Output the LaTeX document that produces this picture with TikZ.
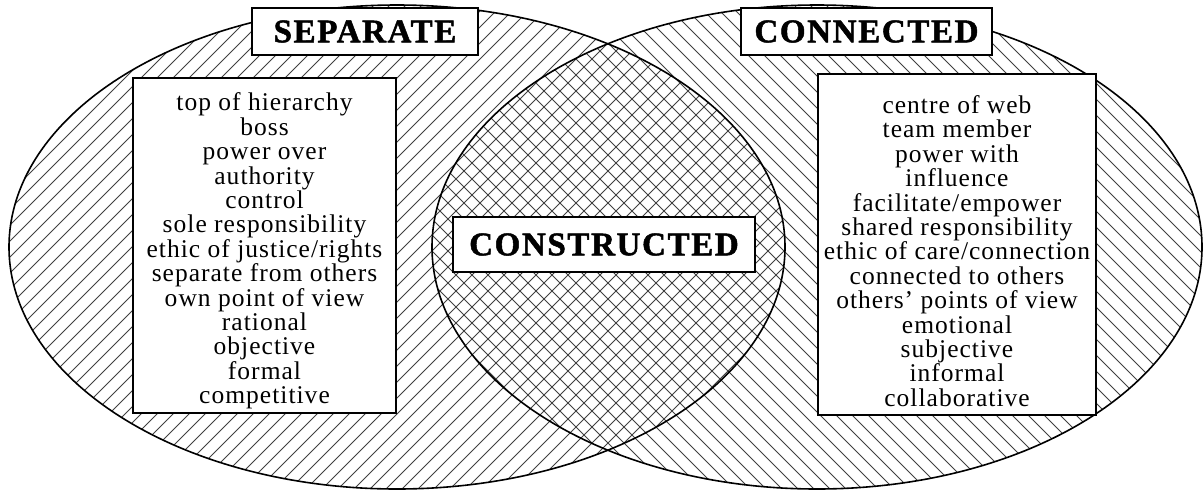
\documentclass[tikz,border=0pt]{standalone}
\usepackage{fontspec}
\setmainfont{Liberation Serif}[LetterSpace=4]
\newfontfamily\titlefont{Liberation Serif}[LetterSpace=5, BoldFeatures={FakeBold=1.5}]
\begin{document}
\begin{tikzpicture}[x=1pt,y=-1pt,
  outline/.style={line width=1.6pt},
  hatch/.style={line width=1.0pt, black!75},
  titlebox/.style={draw, line width=2.4pt, fill=white, inner sep=0pt,
    font=\titlefont\bfseries\fontsize{33}{35}\selectfont},
  listbox/.style={draw, line width=2.4pt, fill=white, inner sep=0pt},
  listtext/.style={align=center, inner sep=0pt, font=\fontsize{25.5}{24.4}\selectfont}
]
\useasboundingbox (0,0) rectangle (1204,491);
\fill[white] (0,0) rectangle (1204,491);
% left hatching "/"
\begin{scope}
  \clip (397,247) ellipse [x radius=388, y radius=242];
  \foreach \i in {-500,-484,...,820}
    \draw[hatch] (\i,495) -- (\i+500,-5);
\end{scope}
% right hatching "\"
\begin{scope}
  \clip (817,247) ellipse [x radius=385, y radius=242];
  \foreach \i in {420,436,...,1720}
    \draw[hatch] (\i,495) -- (\i-500,-5);
\end{scope}
\draw[outline] (397,247) ellipse [x radius=388, y radius=242];
\draw[outline] (817,247) ellipse [x radius=385, y radius=242];
% list boxes
\node[listbox, minimum width=263, minimum height=335] (sepbox) at (264.5,245.5) {};
\node[listtext] (septext) at (264.5,251) {top of hierarchy\\boss\\power over\\authority\\control\\sole responsibility\\ethic of justice/rights\\separate from others\\own point of view\\rational\\objective\\formal\\competitive};
\node[listbox, minimum width=278, minimum height=341] (conbox) at (957,244.5) {};
\node[listtext] (context) at (957,251) {centre of web\\team member\\power with\\influence\\facilitate/empower\\shared responsibility\\ethic of care/connection\\connected to others\\others’ points of view\\emotional\\subjective\\informal\\collaborative};
% title boxes
\node[titlebox, minimum width=226, minimum height=47] (separate) at (365,31.5) {SEPARATE};
\node[titlebox, minimum width=251, minimum height=47] (connected) at (866.5,31.5) {CONNECTED};
\node[titlebox, minimum width=302, minimum height=55] (constructed) at (604,244.5) {CONSTRUCTED};
\end{tikzpicture}
\end{document}
